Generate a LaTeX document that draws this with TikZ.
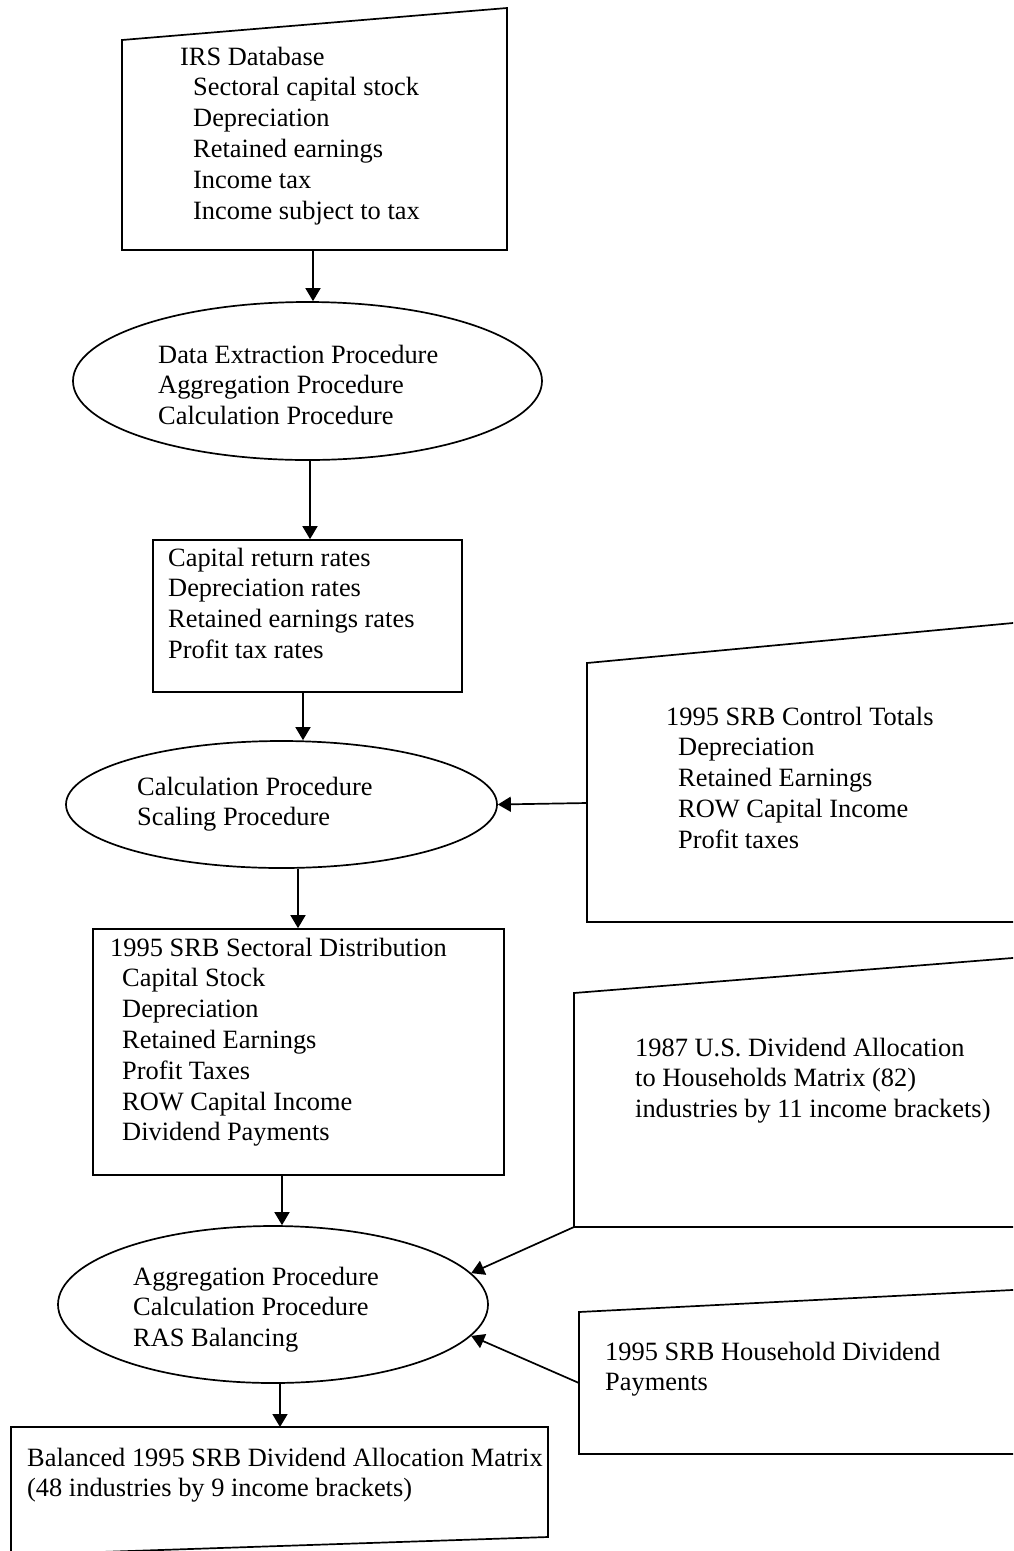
\documentclass[tikz,border=0pt]{standalone}
\usepackage{fontspec}
\setmainfont{Liberation Serif}
\usetikzlibrary{arrows.meta,shapes.geometric}
\newcommand\fs{\fontsize{26.4}{30.8}\selectfont}
\newcommand\ind{\hspace*{13pt}}
\begin{document}
\begin{tikzpicture}[x=1pt,y=-1pt,
  outline/.style={draw, line width=1.7pt, line join=miter},
  boxnode/.style={draw, rectangle, line width=1.7pt, inner sep=0pt},
  ellnode/.style={draw, ellipse, line width=1.7pt, inner sep=0pt},
  arr/.style={-{Triangle[length=13pt,width=15pt]}, line width=1.7pt},
  txt/.style={anchor=base west, inner sep=0pt, font=\fs}]
\useasboundingbox (0,0) rectangle (1013,1551);
\fill[white] (0,0) rectangle (1013,1551);
\clip (0,0) rectangle (1013,1551);

% IRS database (manual input shape)
\coordinate (b1tl) at (122,40);
\coordinate (b1tr) at (507,8);
\coordinate (b1br) at (507,250);
\coordinate (b1bl) at (122,250);
\draw[outline] (b1tl) -- (b1tr) -- (b1br) -- (b1bl) -- cycle;
\node[txt] (t1) at (180,65) {\begin{tabular}[t]{@{}l@{}}IRS Database\\ \ind Sectoral capital stock\\ \ind Depreciation\\ \ind Retained earnings\\ \ind Income tax\\ \ind Income subject to tax\end{tabular}};

% Ellipse 1
\node[ellnode, minimum width=469pt, minimum height=158pt] (e1) at (307.5,381) {};
\node[txt] (t2) at (158,363) {\begin{tabular}[t]{@{}l@{}}Data Extraction Procedure\\ Aggregation Procedure\\ Calculation Procedure\end{tabular}};
\coordinate (a1) at (313,250);
\draw[arr] (a1) -- (a1 |- e1.north);

% Box 2
\node[boxnode, minimum width=309pt, minimum height=152pt] (b2) at (307.5,616) {};
\node[txt] (t3) at (168,566) {\begin{tabular}[t]{@{}l@{}}Capital return rates\\ Depreciation rates\\ Retained earnings rates\\ Profit tax rates\end{tabular}};
\coordinate (a2) at (310,0);
\draw[arr] (a2 |- e1.south) -- (a2 |- b2.north);

% Ellipse 2
\node[ellnode, minimum width=431pt, minimum height=127pt] (e2) at (281.5,804.5) {};
\node[txt] (t4) at (137,795) {\begin{tabular}[t]{@{}l@{}}Calculation Procedure\\ Scaling Procedure\end{tabular}};
\coordinate (a3) at (303,0);
\draw[arr] (a3 |- b2.south) -- (a3 |- e2.north);

% Right box 1
\coordinate (r1tl) at (587,663);
\coordinate (r1tr) at (1030,621.4);
\coordinate (r1br) at (1030,922);
\coordinate (r1bl) at (587,922);
\draw[outline] (r1tl) -- (r1tr) -- (r1br) -- (r1bl) -- cycle;
\node[txt] (t5) at (666,725) {\begin{tabular}[t]{@{}l@{}}1995 SRB Control Totals\\ \hspace*{12pt}Depreciation\\ \hspace*{12pt}Retained Earnings\\ \hspace*{12pt}ROW Capital Income\\ \hspace*{12pt}Profit taxes\end{tabular}};
\coordinate (r1w) at (587,803);
\draw[arr] (r1w) -- (e2.east);

% Box 3
\node[boxnode, minimum width=411pt, minimum height=246pt] (b3) at (298.5,1052) {};
\node[txt] (t6) at (110,956) {\begin{tabular}[t]{@{}l@{}}1995 SRB Sectoral Distribution\\ \hspace*{12pt}Capital Stock\\ \hspace*{12pt}Depreciation\\ \hspace*{12pt}Retained Earnings\\ \hspace*{12pt}Profit Taxes\\ \hspace*{12pt}ROW Capital Income\\ \hspace*{12pt}Dividend Payments\end{tabular}};
\coordinate (a4) at (298,0);
\draw[arr] (a4 |- e2.south) -- (a4 |- b3.north);

% Right box 2
\coordinate (r2tl) at (574,993);
\coordinate (r2tr) at (1030,956.6);
\coordinate (r2br) at (1030,1227);
\coordinate (r2bl) at (574,1227);
\draw[outline] (r2tl) -- (r2tr) -- (r2br) -- (r2bl) -- cycle;
\node[txt] (t7) at (635,1056) {\begin{tabular}[t]{@{}l@{}}1987 U.S. Dividend Allocation\\ to Households Matrix (82)\\ industries by 11 income brackets)\end{tabular}};

% Ellipse 3
\node[ellnode, minimum width=430pt, minimum height=157pt] (e3) at (273,1304.5) {};
\node[txt] (t8) at (133,1285) {\begin{tabular}[t]{@{}l@{}}Aggregation Procedure\\ Calculation Procedure\\ RAS Balancing\end{tabular}};
\coordinate (a5) at (282,0);
\draw[arr] (a5 |- b3.south) -- (a5 |- e3.north);
\draw[arr] (r2bl) -- (e3.9);

% Right box 3
\coordinate (r3tl) at (579,1312);
\coordinate (r3tr) at (1030,1289.1);
\coordinate (r3br) at (1030,1454);
\coordinate (r3bl) at (579,1454);
\draw[outline] (r3tl) -- (r3tr) -- (r3br) -- (r3bl) -- cycle;
\node[txt] (t9) at (605,1360) {\begin{tabular}[t]{@{}l@{}}1995 SRB Household Dividend\\ Payments\end{tabular}};
\coordinate (r3w) at (579,1383);
\draw[arr] (r3w) -- (e3.-9);

% Bottom box
\coordinate (b4tl) at (11,1427);
\coordinate (b4tr) at (548,1427);
\coordinate (b4br) at (548,1537);
\coordinate (b4bl) at (11,1555);
\draw[outline] (b4tl) -- (b4tr) -- (b4br) -- (b4bl) -- cycle;
\node[txt] (t10) at (27,1466) {\begin{tabular}[t]{@{}l@{}}Balanced 1995 SRB Dividend Allocation Matrix\\ (48 industries by 9 income brackets)\end{tabular}};
\coordinate (a6) at (280,0);
\draw[arr] (a6 |- e3.south) -- (a6 |- b4tl);
\end{tikzpicture}
\end{document}
